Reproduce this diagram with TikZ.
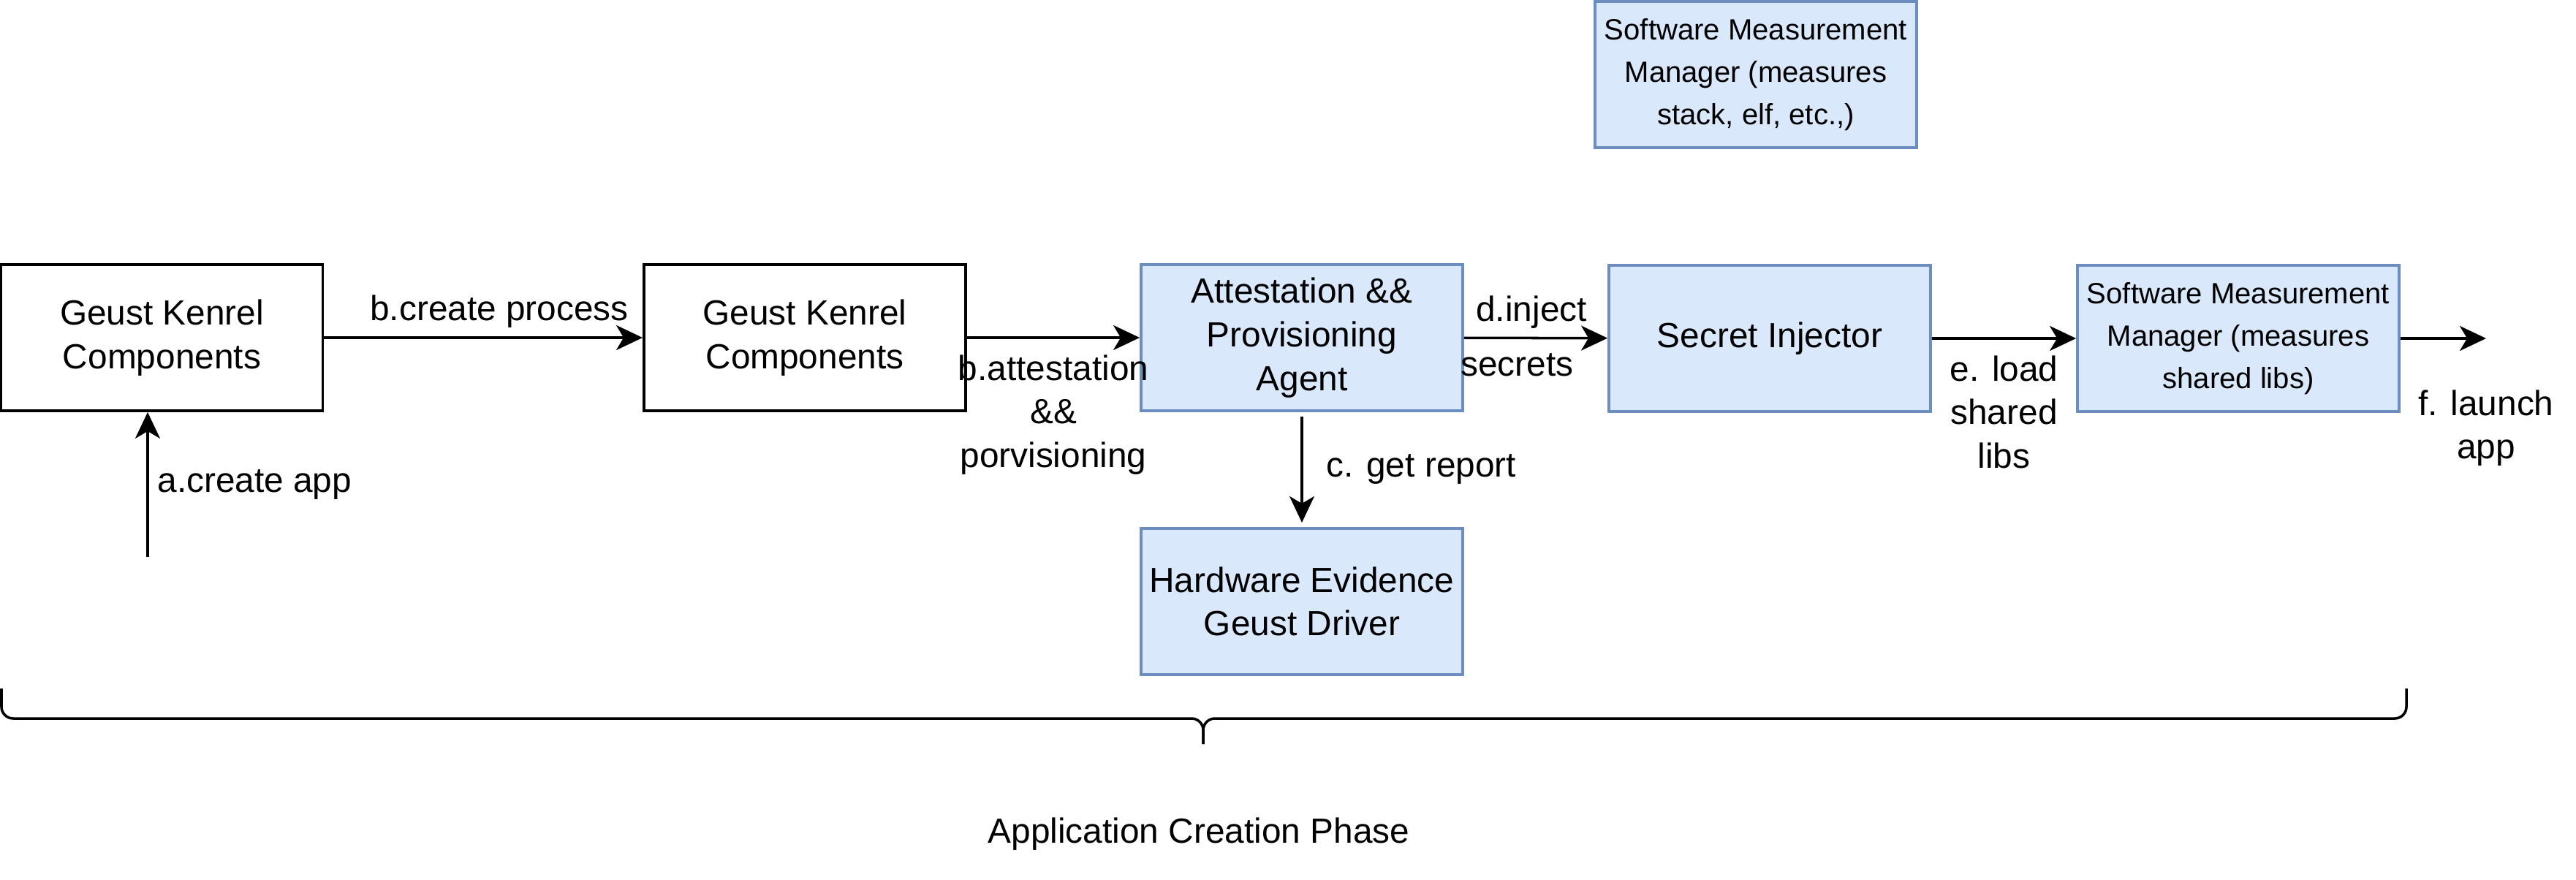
\documentclass[tikz,border=0pt]{standalone}
\usepackage{fontspec}
\setmainfont{Liberation Sans}
\usetikzlibrary{positioning,arrows.meta}
\definecolor{boxfill}{HTML}{DAE8FC}
\definecolor{boxline}{HTML}{6C8EBF}
\begin{document}
\begin{tikzpicture}[
    blk/.style={rectangle, draw, line width=1.1pt, minimum width=4.4cm, minimum height=2cm, inner sep=0.05cm, align=center, font=\fontsize{13.6}{17}\selectfont},
    blu/.style={blk, draw=boxline, fill=boxfill},
    sml/.style={font=\fontsize{11.4}{16.5}\selectfont},
    lbl/.style={align=center, font=\fontsize{13.6}{17}\selectfont},
    arr/.style={-{Stealth[length=0.36cm, width=0.34cm, inset=0.1cm]}, line width=1pt},
    brc/.style={line width=1pt, rounded corners=0.16cm}
  ]
    \useasboundingbox (0,0) rectangle (35.24,-12.04);
    \node[blk] (gk1) at (2.215,-4.62) {Geust Kenrel\\Components};
    \node[blk] (gk2) at (11.01,-4.62) {Geust Kenrel\\Components};
    \node[blu] (agent) at (17.81,-4.62) {Attestation \&\&\\Provisioning\\Agent};
    \node[blu, below=1.57cm of agent] (hw) {Hardware Evidence\\Geust Driver};
    \node[blu] (inj) at (24.21,-4.63) {Secret Injector};
    \node[blu, sml] (smm) at (30.62,-4.63) {Software Measurement\\Manager (measures\\shared libs)};
    \node[blu, sml] (smmtop) at (24.02,-1.02) {Software Measurement\\Manager (measures\\stack, elf, etc.,)};
    \coordinate (appin) at (2.02,-7.62);
    \coordinate (appout) at (34.01,-4.63);
    % arrows
    \draw[arr] (appin) -- (gk1.south -| appin) node[lbl, midway, right] {a.create app};
    \draw[arr] (gk1) -- (gk2) node[lbl, pos=0.55, above] {b.create process};
    \draw[arr] (gk2) -- (agent) node[lbl, midway, below=0.1cm] {b.attestation\\\&\&\\porvisioning};
    \draw[arr, shorten <=0.06cm, shorten >=0.06cm] (agent) -- (hw) node[lbl, midway, right=0.2cm] {c. get report};
    \draw[arr] (agent) -- (inj) node[lbl, pos=0.47, above] {d.inject} node[lbl, pos=0.37, below=0.08cm] {secrets};
    \draw[arr] (inj) -- (smm) node[lbl, midway, below=0.1cm] {e. load\\shared\\libs};
    \draw[arr] (smm) -- (appout) node[lbl, below=0.57cm] {f. launch\\app};
    % brace
    \coordinate (bl) at (0.02,-9.42);
    \coordinate (br) at (32.92,-9.42);
    \coordinate (bm) at (16.46,-9.83);
    \coordinate (tip) at (16.46,-10.18);
    \draw[brc] (bl) |- (bm) -- (tip);
    \draw[brc] (br) |- (bm) -- (tip);
    \node[lbl] (phase) at (16.40,-11.41) {Application Creation Phase};
  \end{tikzpicture}
\end{document}
